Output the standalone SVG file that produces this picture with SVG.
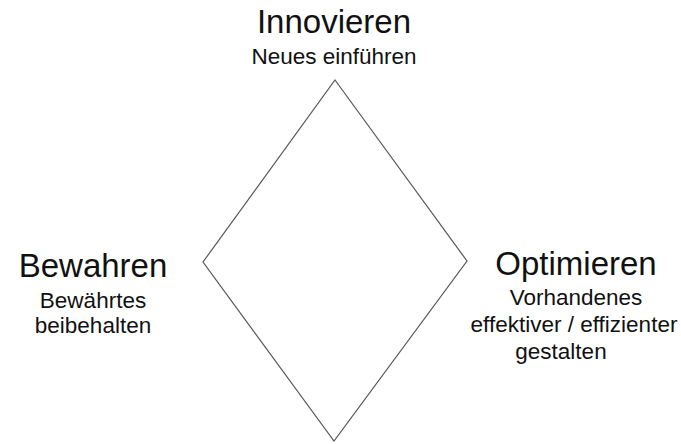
<svg xmlns="http://www.w3.org/2000/svg" width="681" height="444" viewBox="0 0 681 444">
<style>
.t{font-family:"Liberation Sans",Arial,sans-serif;fill:#111;text-anchor:middle}
.h{font-size:33px}
.s{font-size:22.5px}
.d{fill:none;stroke:#555;stroke-width:1.2}
</style>
<rect width="681" height="444" fill="#fff"/>
<g id="connectors">
<polygon class="d" points="335,80 467,261 334,441 203,262"/>
</g>
<g id="innovieren">
<text class="t h" x="334" y="33">Innovieren</text>
<text class="t s" x="334" y="64">Neues einführen</text>
</g>
<g id="bewahren">
<text class="t h" x="93" y="277">Bewahren</text>
<text class="t s" x="93" y="308">Bewährtes</text>
<text class="t s" x="93" y="333">beibehalten</text>
</g>
<g id="optimieren">
<text class="t h" x="576" y="275">Optimieren</text>
<text class="t s" x="576" y="305">Vorhandenes</text>
<text class="t s" x="574" y="332">effektiver / effizienter</text>
<text class="t s" x="561" y="359">gestalten</text>
</g>
</svg>
